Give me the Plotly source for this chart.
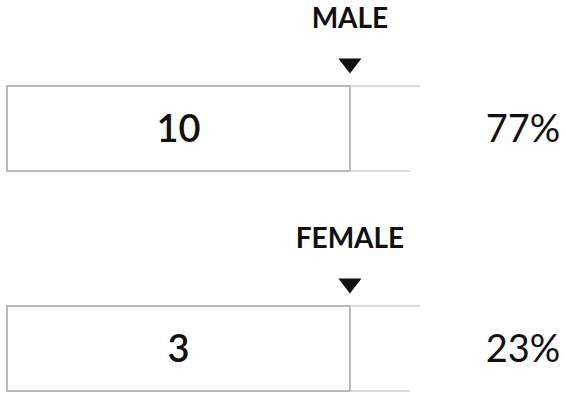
import plotly.graph_objects as go

# ---- data ----
categories = ["MALE", "FEMALE"]
counts = [10, 3]
percent_labels = ["77%", "23%"]

total = sum(counts)
rows = list(range(len(categories)))

# layout helpers (axis units: x in counts, y in row index)
X_MIN, X_MAX = -0.265, 21.19
Y_TOP, Y_BOTTOM = -0.584, 1.216
BAR_W = 0.386
LINE_COLOR = "#a3a3a3"
EXT_COLOR = "#cfcfcf"
TXT_DY = 0.016

fig = go.Figure()

# box (track) for each category
fig.add_trace(go.Bar(
    y=rows, x=[total] * len(rows), base=0, orientation="h",
    width=BAR_W,
    marker=dict(color="white", line=dict(color=LINE_COLOR, width=1.5)),
    hoverinfo="skip", showlegend=False,
))

# faint extensions of top / bottom edges
for r in rows:
    fig.add_trace(go.Scatter(
        x=[total, total * 1.205], y=[r - BAR_W / 2, r - BAR_W / 2],
        mode="lines", line=dict(color=EXT_COLOR, width=1.5),
        hoverinfo="skip", showlegend=False))
    fig.add_trace(go.Scatter(
        x=[total, total * 1.175], y=[r + BAR_W / 2, r + BAR_W / 2],
        mode="lines", line=dict(color=EXT_COLOR, width=1.5),
        hoverinfo="skip", showlegend=False))

# count value inside the box
fig.add_trace(go.Scatter(
    x=[total / 2] * len(rows), y=[r + TXT_DY for r in rows], mode="text",
    text=[str(c) for c in counts], textposition="middle center",
    textfont=dict(family="Lato", size=38, color="#111111", weight=600),
    hoverinfo="skip", showlegend=False))

# percentage on the right
fig.add_trace(go.Scatter(
    x=[19.56] * len(rows), y=[r + TXT_DY for r in rows], mode="text",
    text=percent_labels, textposition="middle center",
    textfont=dict(family="Lato", size=38, color="#111111"),
    hoverinfo="skip", showlegend=False))

# category labels above the marker
fig.add_trace(go.Scatter(
    x=[total] * len(rows), y=[r - 0.489 for r in rows], mode="text",
    text=["<b>%s</b>" % c for c in categories], textposition="middle center",
    textfont=dict(family="Lato", size=28, color="#111111"),
    hoverinfo="skip", showlegend=False))

# downward triangle marker
fig.add_trace(go.Scatter(
    x=[total] * len(rows), y=[r - 0.295 for r in rows], mode="markers",
    marker=dict(symbol="triangle-down", size=20, color="#111111",
                line=dict(width=0)),
    hoverinfo="skip", showlegend=False))

fig.update_xaxes(range=[X_MIN, X_MAX], visible=False, fixedrange=True)
fig.update_yaxes(range=[Y_BOTTOM, Y_TOP], visible=False, fixedrange=True)
fig.update_layout(
    width=566, height=396,
    margin=dict(l=0, r=0, t=0, b=0),
    paper_bgcolor="white", plot_bgcolor="white",
    showlegend=False,
)

fig.write_html("out.html", include_plotlyjs=True,
               config={"displayModeBar": False},
               post_script="document.body.style.margin='0';")
